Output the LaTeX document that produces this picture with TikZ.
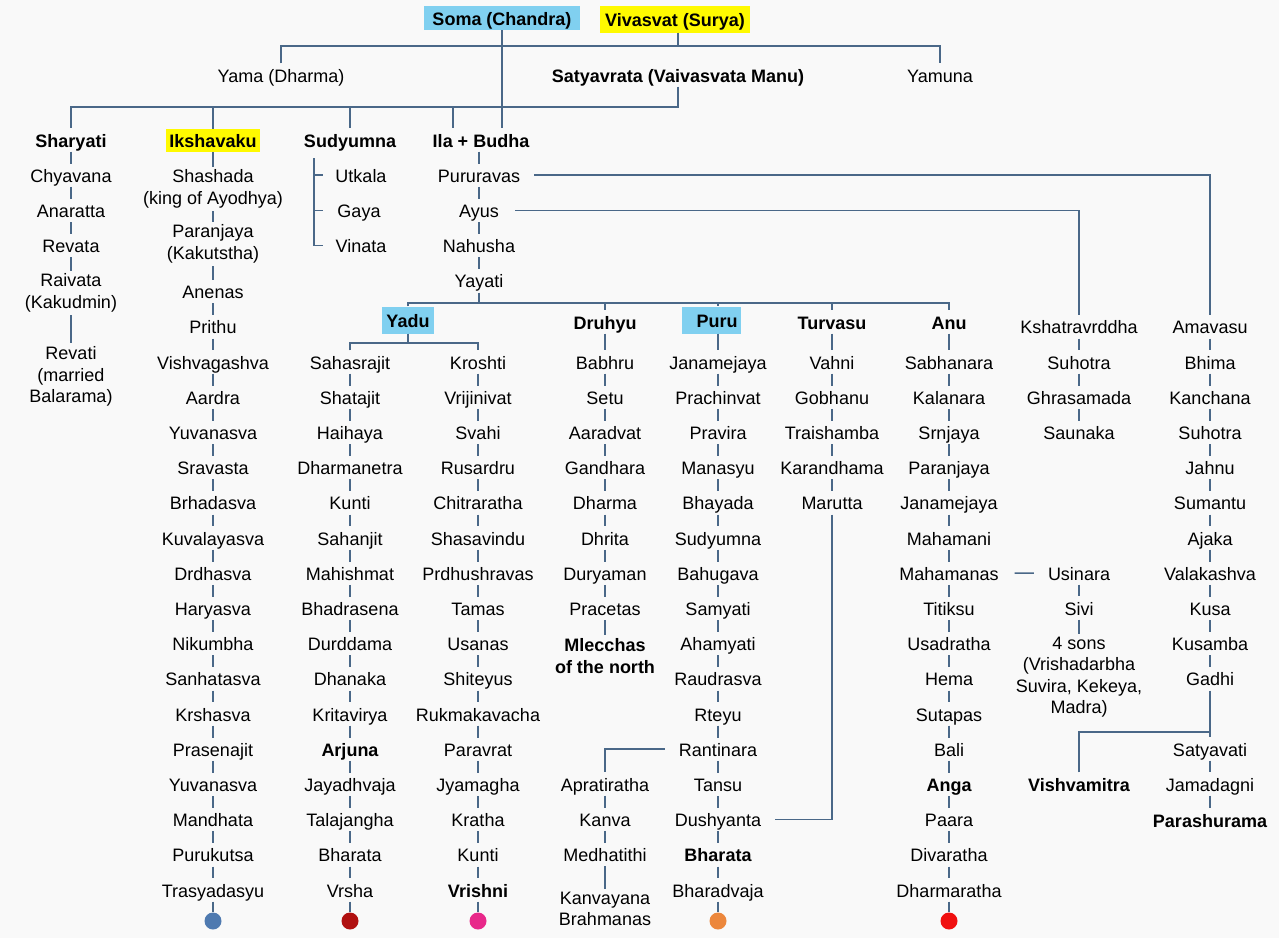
\documentclass[tikz,border=0pt]{standalone}
\usepackage{fontspec}
\setmainfont{Liberation Sans}
\usepackage{tikz}

\definecolor{linkblue}{RGB}{74,104,136}
\definecolor{somablue}{RGB}{128,208,240}
\definecolor{suryayellow}{RGB}{255,250,0}
\definecolor{bg}{RGB}{249,249,249}
\definecolor{dotblue}{RGB}{79,122,176}
\definecolor{dotmaroon}{RGB}{176,16,16}
\definecolor{dotpink}{RGB}{232,40,138}
\definecolor{dotorange}{RGB}{236,135,60}
\definecolor{dotred}{RGB}{240,16,16}

\begin{document}
\begin{tikzpicture}[x=1pt,y=-1pt,
    person/.style={inner xsep=2pt,inner ysep=3pt,text height=15.5pt,text depth=1.5pt,font=\fontsize{18}{21.5}\selectfont},
    chief/.style={person,font=\fontsize{18}{21.5}\selectfont\bfseries},
    multi/.style={inner xsep=2pt,inner ysep=3pt,align=center,font=\fontsize{18}{21.5}\selectfont},
    link/.style={draw=linkblue,line width=1.5pt},
    enddot/.style={circle,inner sep=0pt,minimum size=17pt}]
  \path[use as bounding box,fill=bg] (0,0) rectangle (1279,938);

  % Soma and Vivasvat
  \node[chief,fill=somablue,inner xsep=8pt,inner ysep=3.5pt] (soma) at (502,18) {Soma (Chandra)};
  \node[chief,fill=suryayellow,inner xsep=5pt,minimum height=27pt] (viv) at (675,19) {Vivasvat (Surya)};
  \node[person] (yama) at (281,75) {Yama (Dharma)};
  \node[chief] (manu) at (678,75) {Satyavrata (Vaivasvata Manu)};
  \node[person] (yamuna) at (940,75) {Yamuna};
  \draw[link] (yama) |- (yamuna |- 0,46) -- (yamuna);
  \draw[link] (manu |- viv.south) -- (manu |- 0,46);

  % children of Manu
  \node[chief] (sh0) at (71,140) {Sharyati};
  \node[chief,fill=suryayellow,inner xsep=3.5pt] (ik0) at (213,140.5) {Ikshavaku};
  \node[chief] (su0) at (350,140) {Sudyumna};
  \node[chief] (ib) at (481,140) {Ila + Budha};
  \draw[link] (manu) -- (manu |- 0,107) -| (sh0);
  \foreach \n in {ik0,su0}
    \draw[link] (\n |- 0,107) -- (\n);
  \coordinate (ila) at (453,107);
  \draw[link] (ila) -- (ila |- ib.north);
  \draw[link] (soma) -- (soma |- ib.north);

  % Sharyati
  \node[person] (sh1) at (71,175.2) {Chyavana};
  \node[person] (sh2) at (71,210.4) {Anaratta};
  \node[person] (sh3) at (71,245.6) {Revata};
  \node[multi] (sh4) at (71,293) {Raivata\\(Kakudmin)};
  \node[multi] (sh5) at (71,376.5) {Revati\\(married\\Balarama)};
  \draw[link] (sh0) -- (sh1) -- (sh2) -- (sh3) -- (sh4) -- (sh5);

  % Ikshavaku
  \node[multi] (ikA) at (213,189) {Shashada\\(king of Ayodhya)};
  \node[multi] (ikB) at (213,244) {Paranjaya\\(Kakutstha)};
  \foreach \nm [count=\i] in {Anenas,Prithu,Vishvagashva,Aardra,Yuvanasva,Sravasta,Brhadasva,Kuvalayasva,Drdhasva,Haryasva,Nikumbha,Sanhatasva,Krshasva,Prasenajit,Yuvanasva,Mandhata,Purukutsa,Trasyadasyu}
    \node[person] (ik\i) at (213,{362+35.2*(\i-3)}) {\nm};
  \node[enddot,fill=dotblue] (ikdot) at (213,921) {};
  \draw[link] (ik0) -- (ikA) -- (ikB) -- (ik1);
  \foreach \i [remember=\i as \j (initially 1)] in {2,...,18}
    \draw[link] (ik\j) -- (ik\i);
  \draw[link] (ik18) -- (ikdot);

  % Sudyumna
  \node[person] (su1) at (361,175.2) {Utkala};
  \node[person] (su2) at (359,210.4) {Gaya};
  \node[person] (su3) at (361,245.6) {Vinata};
  \coordinate (sub) at (314,158);
  \draw[link] (sub) |- (323,245.6);
  \foreach \n in {su1,su2}
    \draw[link] (sub |- \n) -- +(9,0);

  % Ila + Budha
  \foreach \nm [count=\i] in {Pururavas,Ayus,Nahusha,Yayati}
    \node[person] (pv\i) at (479,{175.2+35.2*(\i-1)}) {\nm};
  \draw[link] (ib.south -| pv1) -- (pv1) -- (pv2) -- (pv3) -- (pv4);

  % sons of Yayati
  \node[chief,fill=somablue,inner xsep=4.5pt,inner ysep=5pt] (yadu) at (408,320) {Yadu};
  \node[chief] (dru) at (605,322) {Druhyu};
  \node[chief,fill=somablue,inner xsep=3pt,inner ysep=5pt] (puru) at (711,320) {\hspace*{12pt}Puru};
  \node[chief] (tur) at (832,322) {Turvasu};
  \node[chief] (anu) at (949,322) {Anu};
  \draw[link] (pv4) -- (pv4 |- 0,303);
  \draw[link] (yadu) |- (anu |- 0,303) -- (anu);
  \foreach \n in {dru,tur}
    \draw[link] (\n |- 0,303) -- (\n);

  % Yadu
  \foreach \nm [count=\i] in {Sahasrajit,Shatajit,Haihaya,Dharmanetra,Kunti,Sahanjit,Mahishmat,Bhadrasena,Durddama,Dhanaka,Kritavirya,{\bfseries Arjuna},Jayadhvaja,Talajangha,Bharata,Vrsha}
    \node[person] (sa\i) at (350,{362+35.2*(\i-1)}) {\nm};
  \foreach \nm [count=\i] in {Kroshti,Vrijinivat,Svahi,Rusardru,Chitraratha,Shasavindu,Prdhushravas,Tamas,Usanas,Shiteyus,Rukmakavacha,Paravrat,Jyamagha,Kratha,Kunti,{\bfseries Vrishni}}
    \node[person] (kr\i) at (478,{362+35.2*(\i-1)}) {\nm};
  \node[enddot,fill=dotmaroon] (sadot) at (350,921) {};
  \node[enddot,fill=dotpink] (krdot) at (478,921) {};
  \draw[link] (yadu) -- (yadu |- 0,343);
  \draw[link] (sa1) |- (kr1 |- 0,343) -- (kr1);
  \foreach \i [remember=\i as \j (initially 1)] in {2,...,16}{
    \draw[link] (sa\j) -- (sa\i);
    \draw[link] (kr\j) -- (kr\i);
  }
  \draw[link] (sa16) -- (sadot);
  \draw[link] (kr16) -- (krdot);

  % Druhyu
  \foreach \nm [count=\i] in {Babhru,Setu,Aaradvat,Gandhara,Dharma,Dhrita,Duryaman,Pracetas}
    \node[person] (dr\i) at (605,{362+35.2*(\i-1)}) {\nm};
  \node[multi,font=\fontsize{18}{21.5}\selectfont\bfseries] (dr9) at (605,656) {Mlecchas\\of the north};
  \draw[link] (dru) -- (dr1);
  \foreach \i [remember=\i as \j (initially 1)] in {2,...,9}
    \draw[link] (dr\j) -- (dr\i);

  % Puru
  \foreach \nm [count=\i] in {Janamejaya,Prachinvat,Pravira,Manasyu,Bhayada,Sudyumna,Bahugava,Samyati,Ahamyati,Raudrasva,Rteyu,Rantinara,Tansu,Dushyanta,{\bfseries Bharata},Bharadvaja}
    \node[person] (pur\i) at (718,{362+35.2*(\i-1)}) {\nm};
  \node[enddot,fill=dotorange] (pudot) at (718,921) {};
  \draw[link] (pur1 |- 0,303) -- (pur1 |- puru.north);
  \draw[link] (puru.south -| pur1) -- (pur1);
  \foreach \i [remember=\i as \j (initially 1)] in {2,...,16}
    \draw[link] (pur\j) -- (pur\i);
  \draw[link] (pur16) -- (pudot);

  % Kanva line
  \foreach \nm [count=\i] in {Apratiratha,Kanva,Medhatithi}
    \node[person] (ap\i) at (605,{784+35.2*(\i-1)}) {\nm};
  \node[multi] (ap4) at (605,909) {Kanvayana\\Brahmanas};
  \draw[link] ([xshift=-12pt]pur12.west) -| (ap1);
  \draw[link] (ap1) -- (ap2) -- (ap3) -- (ap4);

  % Turvasu
  \foreach \nm [count=\i] in {Vahni,Gobhanu,Traishamba,Karandhama,Marutta}
    \node[person] (tu\i) at (832,{362+35.2*(\i-1)}) {\nm};
  \draw[link] (tur) -- (tu1);
  \foreach \i [remember=\i as \j (initially 1)] in {2,...,5}
    \draw[link] (tu\j) -- (tu\i);
  \draw[link] (tu5) |- ([xshift=12pt]pur14.east);

  % Anu
  \foreach \nm [count=\i] in {Sabhanara,Kalanara,Srnjaya,Paranjaya,Janamejaya,Mahamani,Mahamanas,Titiksu,Usadratha,Hema,Sutapas,Bali,{\bfseries Anga},Paara,Divaratha,Dharmaratha}
    \node[person] (an\i) at (949,{362+35.2*(\i-1)}) {\nm};
  \node[enddot,fill=dotred] (andot) at (949,921) {};
  \draw[link] (anu) -- (an1);
  \foreach \i [remember=\i as \j (initially 1)] in {2,...,16}
    \draw[link] (an\j) -- (an\i);
  \draw[link] (an16) -- (andot);

  % Usinara
  \node[person] (us1) at (1079,573) {Usinara};
  \node[person] (us2) at (1079,608) {Sivi};
  \node[multi] (us3) at (1079,677) {4 sons\\(Vrishadarbha\\Suvira, Kekeya,\\Madra)};
  \draw[link] ([xshift=14pt]an7.east) -- ([xshift=-12pt]us1.west);
  \draw[link] (us1) -- (us2) -- (us3);

  % Kshatravrddha
  \foreach \nm [count=\i] in {Kshatravrddha,Suhotra,Ghrasamada,Saunaka}
    \node[person] (ks\i) at (1079,{362+35.2*(\i-2)}) {\nm};
  \draw[link] ([xshift=14pt]pv2.east) -| (ks1);
  \draw[link] (ks1) -- (ks2) -- (ks3) -- (ks4);

  % Amavasu
  \foreach \nm [count=\i] in {Amavasu,Bhima,Kanchana,Suhotra,Jahnu,Sumantu,Ajaka,Valakashva,Kusa,Kusamba,Gadhi}
    \node[person] (am\i) at (1210,{362+35.2*(\i-2)}) {\nm};
  \draw[link] ([xshift=12pt]pv1.east) -| (am1);
  \foreach \i [remember=\i as \j (initially 1)] in {2,...,11}
    \draw[link] (am\j) -- (am\i);

  % Gadhi
  \node[person] (sat) at (1210,749) {Satyavati};
  \node[person] (jam) at (1210,784) {Jamadagni};
  \node[chief] (par) at (1210,820) {Parashurama};
  \node[chief] (vis) at (1079,784) {Vishvamitra};
  \draw[link] (am11) -- (sat);
  \draw[link] (vis) |- (am11 |- 0,732);
  \draw[link] (sat) -- (jam) -- (par);
\end{tikzpicture}
\end{document}
